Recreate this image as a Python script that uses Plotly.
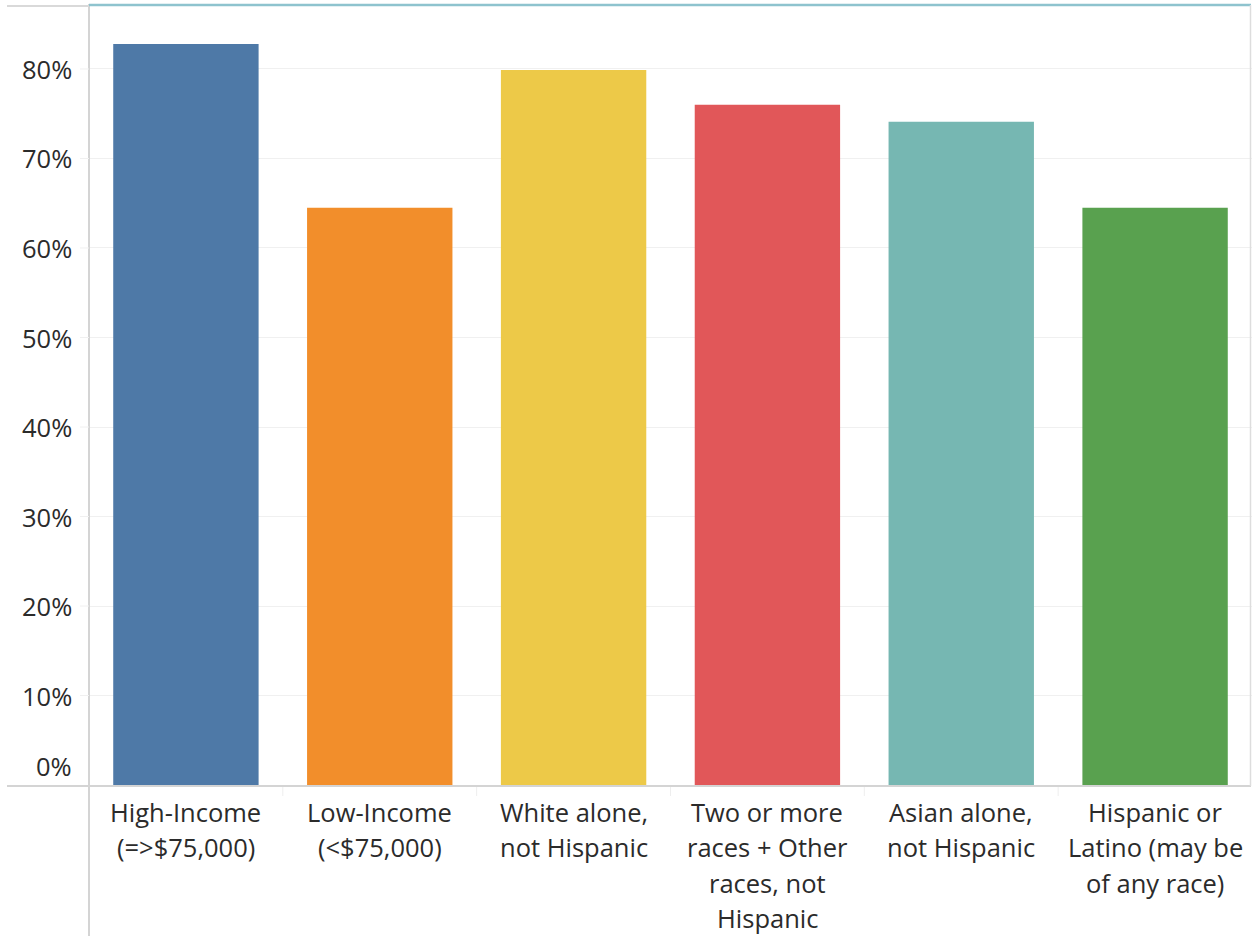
import plotly.graph_objects as go

categories = ["High-Income (=>$75,000)", "Low-Income (<$75,000)", "White alone, not Hispanic",
              "Two or more races + Other races, not Hispanic", "Asian alone, not Hispanic",
              "Hispanic or Latino (may be of any race)"]
label_lines = [["High-Income", "(=>$75,000)"],
               ["Low-Income", "(<$75,000)"],
               ["White alone,", "not Hispanic"],
               ["Two or more", "races + Other", "races, not", "Hispanic"],
               ["Asian alone,", "not Hispanic"],
               ["Hispanic or", "Latino (may be", "of any race)"]]
values = [82.8, 64.5, 79.9, 76.0, 74.1, 64.5]
colors = ["#4E79A7", "#F28E2B", "#EDC948", "#E15759", "#76B7B2", "#59A14F"]
tick_vals = [0, 10, 20, 30, 40, 50, 60, 70, 80]
tick_text = ["0%", "10%", "20%", "30%", "40%", "50%", "60%", "70%", "80%"]

FONT = "Open Sans"
TXT = "#2b2b2b"
FS = 25.5
L, R, T, B = 89, 0, 5, 151
W, H = 1252, 936
PW, PH = W - L - R, H - T - B


def px_x(p):
    return (p - L) / PW


def px_y(p):
    return (H - B - p) / PH


fig = go.Figure(go.Bar(x=categories, y=values, marker_color=colors,
                       marker_line_width=0, width=0.75, hoverinfo="skip"))

annotations = []
for v, t in zip(tick_vals, tick_text):
    annotations.append(dict(x=px_x(74), xref="paper", xanchor="right",
                            y=v, yref="y", yanchor="middle",
                            yshift=19 if v == 0 else 0,
                            text=t, showarrow=False,
                            font=dict(family=FONT, size=FS, color=TXT)))
for cat, lines in zip(categories, label_lines):
    for i, ln in enumerate(lines):
        annotations.append(dict(x=cat, xref="x", xanchor="center",
                                y=0, yref="paper", yanchor="middle",
                                yshift=-(26.5 + 35.5 * i),
                                text=ln, showarrow=False,
                                font=dict(family=FONT, size=FS, color=TXT)))

shapes = [
    # left axis line
    dict(type="line", xref="paper", yref="paper", x0=0, x1=0, y0=px_y(936), y1=px_y(4),
         line=dict(color="#D4D4D4", width=2)),
    # bottom axis line
    dict(type="line", xref="paper", yref="paper", x0=px_x(7), x1=px_x(1251), y0=px_y(786), y1=px_y(786),
         line=dict(color="#D4D4D4", width=2)),
    # top gray line left of axis
    dict(type="line", xref="paper", yref="paper", x0=px_x(7), x1=0, y0=px_y(6), y1=px_y(6),
         line=dict(color="#D9D9D9", width=2)),
    # top teal line
    dict(type="line", xref="paper", yref="paper", x0=0, x1=px_x(1251), y0=px_y(5), y1=px_y(5),
         line=dict(color="#8EC3CE", width=2.5)),
    # right border
    dict(type="line", xref="paper", yref="paper", x0=px_x(1250.5), x1=px_x(1250.5), y0=px_y(786), y1=px_y(5),
         line=dict(color="#DDDDDD", width=1.5)),
]
for k in range(1, len(categories)):
    xb = k - 0.5
    shapes.append(dict(type="line", xref="x", yref="paper", x0=xb, x1=xb,
                       y0=px_y(787), y1=px_y(796), line=dict(color="#EEEEEE", width=1)))
# small tick stubs left of axis at grid lines
for v in tick_vals[1:]:
    shapes.append(dict(type="line", xref="paper", yref="y", x0=px_x(80), x1=0, y0=v, y1=v,
                       line=dict(color="#F0F0F0", width=1)))

fig.update_layout(
    width=W, height=H,
    margin=dict(l=L, r=R, t=T, b=B),
    paper_bgcolor="white", plot_bgcolor="white",
    showlegend=False,
    xaxis=dict(showticklabels=False, showgrid=False, zeroline=False, showline=False,
               range=[-0.5, 5.5], ticks=""),
    yaxis=dict(range=[0, 87.15], tickvals=tick_vals, showticklabels=False,
               showgrid=True, gridcolor="#F0F0F0", gridwidth=1, zeroline=False,
               showline=False, ticks=""),
    annotations=annotations,
    shapes=shapes,
)

fig.write_html("out.html")
